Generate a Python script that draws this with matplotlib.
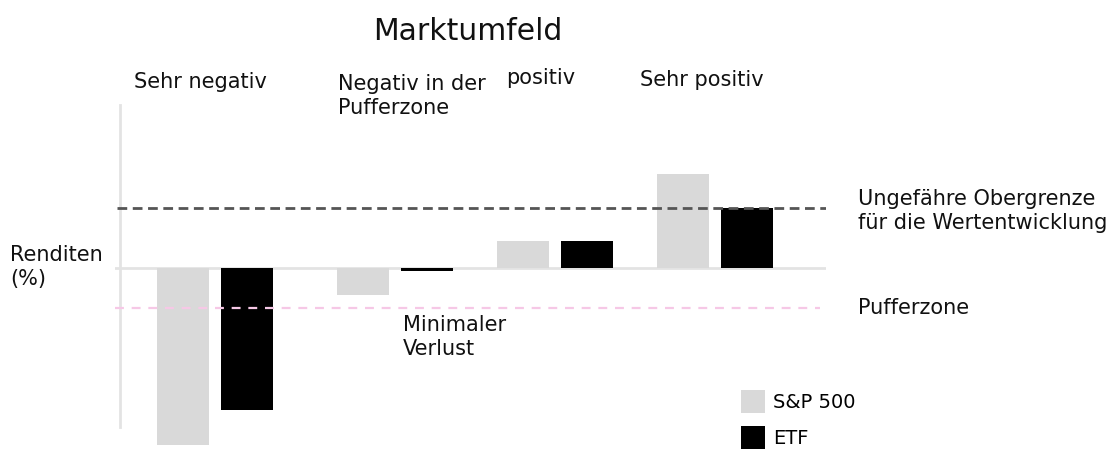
import matplotlib.pyplot as plt
import numpy as np

# Marktumfeld-Szenarien
szenarien = ['Sehr negativ', 'Negativ in der\nPufferzone', 'positiv', 'Sehr positiv']
sp500 = [-29.5, -4.5, 4.5, 15.7]
etf = [-23.7, -0.5, 4.5, 10.0]
obergrenze = 10.0
puffer = -6.7

W, H = 1116, 450
fig = plt.figure(figsize=(W / 100, H / 100), dpi=100)
plt.rcParams['font.family'] = ['DejaVu Sans']

# axes region in pixels: x 115..826, y 100..450
ax = fig.add_axes([115 / W, 0, (826 - 115) / W, 350 / H])
ax.set_xlim(-0.625, 3.819)
ax.set_ylim(-30.33, 28)
ax.axis('off')

pos = np.array([0, 1.125, 2.125, 3.125])
bw = 0.32
off = 0.2

ax.axhline(0, color='#e3e3e3', lw=2, zorder=1)
ax.plot([-0.594, -0.594], [27.2, -26.5], color='#e3e3e3', lw=2, zorder=1)

ax.bar(pos - off, sp500, width=bw, color='#d9d9d9', zorder=2, label='S&P 500')
ax.bar(pos + off, etf, width=bw, color='black', zorder=2, label='ETF')

ax.plot([-0.61, 3.819], [obergrenze, obergrenze], color='#555555', lw=2,
        ls=(0, (3.5, 2)), zorder=3)
ax.plot([-0.625, 3.78], [puffer, puffer], color='#f6c8e6', lw=1.6,
        ls=(0, (4, 3.5)), zorder=3)

fs = 15
fig.text(468 / W, 1 - 32 / H, 'Marktumfeld', fontsize=21.5, ha='center', va='center',
         color='#111111')
xs = [134, 338, 506, 640]
ys = [82, 96, 78, 80]
for s, x, y in zip(szenarien, xs, ys):
    fig.text(x / W, 1 - y / H, s, fontsize=fs, ha='left', va='center',
             color='#111111', linespacing=1.25)

fig.text(10 / W, 1 - 267 / H, 'Renditen\n(%)', fontsize=fs, ha='left', va='center',
         color='#111111', linespacing=1.25)
fig.text(858 / W, 1 - 211 / H, 'Ungefähre Obergrenze\nfür die Wertentwicklung',
         fontsize=fs, ha='left', va='center', color='#111111', linespacing=1.25)
fig.text(858 / W, 1 - 308 / H, 'Pufferzone', fontsize=fs, ha='left', va='center',
         color='#111111')
fig.text(403 / W, 1 - 337 / H, 'Minimaler\nVerlust', fontsize=fs, ha='left',
         va='center', color='#111111', linespacing=1.25)

fig.legend(loc='upper left', bbox_to_anchor=(741 / W, 1 - 390 / H), frameon=False,
           fontsize=14, handlelength=1.24, handleheight=1.42, handletextpad=0.42,
           labelspacing=0.68, borderaxespad=0, borderpad=0)

plt.savefig('out.png', dpi=100)
